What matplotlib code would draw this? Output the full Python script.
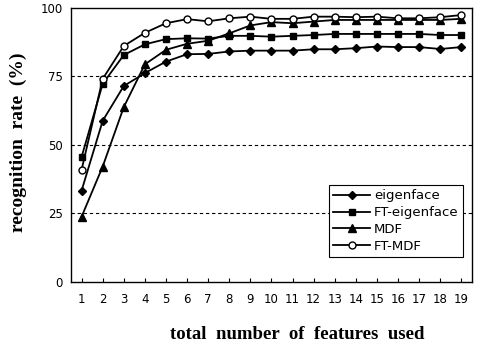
import numpy as np
import matplotlib.pyplot as plt

# values
n_features = list(range(1, 20))
eigenface = [33.3, 58.8, 71.5, 76.2, 80.4, 83.1, 83.2, 84.1, 84.4, 84.4,
             84.4, 84.9, 84.9, 85.3, 85.9, 85.7, 85.7, 85.0, 85.7]
ft_eigenface = [45.6, 72.3, 82.8, 86.7, 88.6, 88.9, 88.8, 89.8, 89.8, 89.5,
                89.8, 90.1, 90.5, 90.5, 90.5, 90.5, 90.5, 90.1, 90.1]
mdf = [23.8, 42.1, 63.8, 79.4, 84.7, 86.9, 88.0, 90.7, 93.6, 94.8,
       94.4, 95.0, 95.6, 95.6, 95.6, 95.6, 95.6, 95.6, 96.0]
ft_mdf = [40.9, 74.1, 86.1, 90.9, 94.4, 95.9, 95.1, 96.2, 96.8, 96.0,
          96.0, 96.8, 96.8, 96.6, 96.8, 96.2, 96.2, 96.6, 97.4]
y_ticks = [0, 25, 50, 75, 100]

fig = plt.figure(figsize=(4.8, 3.43), dpi=100)
ax = fig.add_axes([0.148, 0.178, 0.835, 0.799])

ax.plot(n_features, eigenface, color='black', lw=1.3, marker='D', ms=4.5,
        label='eigenface')
ax.plot(n_features, ft_eigenface, color='black', lw=1.3, marker='s', ms=5,
        label='FT-eigenface')
ax.plot(n_features, mdf, color='black', lw=1.3, marker='^', ms=5.5,
        label='MDF')
ax.plot(n_features, ft_mdf, color='black', lw=1.3, marker='o', ms=5,
        mfc='white', mew=1.0, label='FT-MDF')

ax.set_xlim(0.5, 19.5)
ax.set_ylim(0, 100)
ax.set_xticks(n_features)
ax.set_yticks(y_ticks)
for v in y_ticks[1:-1]:
    ax.axhline(v, color='black', lw=0.8, ls=(0, (3, 2.5)))

ax.tick_params(axis='both', labelsize=8.5, direction='in', length=3,
               width=0.8, pad=8)
ax.tick_params(axis='y', length=0, pad=6)
for lab in ax.get_xticklabels() + ax.get_yticklabels():
    lab.set_family('DejaVu Sans')
for sp in ax.spines.values():
    sp.set_linewidth(1.0)

ax.set_xlabel('total  number  of  features  used', family='Liberation Serif',
              fontweight='bold', fontsize=13.5)
ax.xaxis.set_label_coords(0.565, -0.16)
ax.set_ylabel('recognition  rate  (%)', family='Liberation Serif',
              fontweight='bold', fontsize=14)
ax.yaxis.set_label_coords(-0.11, 0.51)

leg = ax.legend(loc='lower right', bbox_to_anchor=(0.977, 0.091),
                borderaxespad=0, fancybox=False, edgecolor='black',
                framealpha=1, fontsize=9.5, handlelength=2.8, borderpad=0.3,
                labelspacing=0.3, handletextpad=0.3)
leg.get_frame().set_linewidth(0.8)

fig.savefig('out.png', dpi=100)
